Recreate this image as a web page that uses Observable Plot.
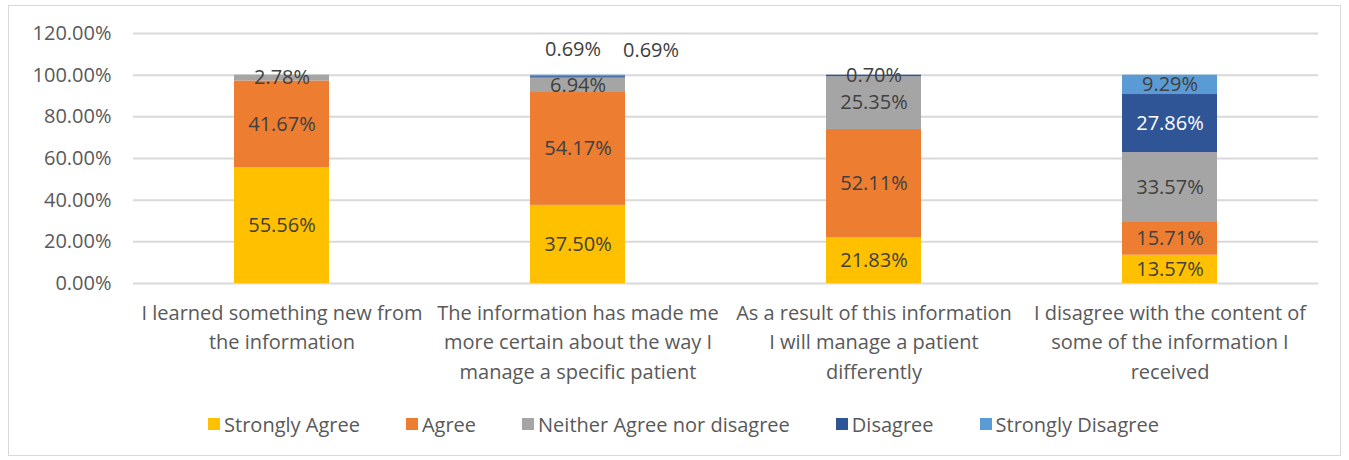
<!DOCTYPE html>
<html>
<head>
<meta charset="utf-8">
<script src="https://cdn.jsdelivr.net/npm/d3@7"></script>
<script src="https://cdn.jsdelivr.net/npm/@observablehq/plot@0.6"></script>
<style>
  html, body { margin: 0; padding: 0; background: #fff; }
  #wrap { position: relative; width: 1349px; height: 460px; overflow: hidden; font-family: "Open Sans", Lato, sans-serif; }
  #frame { position: absolute; left: 8px; top: 5px; width: 1331px; height: 449px; border: 1px solid #d9d9d9; pointer-events: none; }
  #chart { position: absolute; left: 0; top: 0; }
  #legend { position: absolute; left: 0; top: 400px; width: 1349px; height: 48px; display: flex; justify-content: center; align-items: center; gap: 46px; font-size: 20px; color: #595959; padding-left: 18px; box-sizing: border-box; }
  #legend .item { display: flex; align-items: center; gap: 4px; }
  #legend .sw { width: 12px; height: 12px; display: inline-block; }
</style>
</head>
<body>
<div id="wrap">
  <div id="chart"></div>
  <div id="legend"></div>
  <div id="frame"></div>
</div>
<script>
const categories = [
  "I learned something new from\nthe information",
  "The information has made me\nmore certain about the way I\nmanage a specific patient",
  "As a result of this information\nI will manage a patient\ndifferently",
  "I disagree with the content of\nsome of the information I\nreceived"
];
const seriesNames = ["Strongly Agree", "Agree", "Neither Agree nor disagree", "Disagree", "Strongly Disagree"];
const seriesColors = ["#FFC000", "#ED7D31", "#A5A5A5", "#2F5597", "#5B9BD5"];
const stronglyAgree = [55.56, 37.50, 21.83, 13.57];
const agree = [41.67, 54.17, 52.11, 15.71];
const neither = [2.78, 6.94, 25.35, 33.57];
const disagree = [0, 0.69, 0.70, 27.86];
const stronglyDisagree = [0, 0.69, 0, 9.29];
const yTicks = [0, 20, 40, 60, 80, 100, 120];

const seriesValues = [stronglyAgree, agree, neither, disagree, stronglyDisagree];
const rows = [];
categories.forEach((c, i) => {
  seriesNames.forEach((s, j) => {
    rows.push({category: c, series: s, value: seriesValues[j][i], ci: i, sj: j});
  });
});

const fmt = v => v.toFixed(2) + "%";
// tiny segments in the second bar whose labels Excel moved above the bar
const isOutside = d => d.ci === 1 && d.sj >= 3;
const stackOpts = {x: "category", y: "value", z: "series", order: seriesNames};
const FS = 20;

const chart = Plot.plot({
  width: 1349,
  height: 400,
  marginLeft: 133,
  marginRight: 31,
  marginTop: 33,
  marginBottom: 117,
  style: {fontFamily: "'Open Sans', Lato, sans-serif", fontSize: FS + "px", color: "#595959", background: "transparent"},
  x: {domain: categories, paddingInner: 0.68, paddingOuter: 0.34, label: null},
  y: {domain: [0, 120], ticks: yTicks, label: null, tickFormat: fmt},
  color: {domain: seriesNames, range: seriesColors},
  marks: [
    Plot.gridY(yTicks, {stroke: "#d9d9d9", strokeOpacity: 1, strokeWidth: 2}),
    Plot.axisY({ticks: yTicks, tickFormat: fmt, tickSize: 0, tickPadding: 22, fontSize: FS, fill: "#595959", label: null}),
    Plot.axisX({tickSize: 0, tickPadding: 15, fontSize: FS, fill: "#595959", lineHeight: 1.48, label: null, textAnchor: "middle"}),
    Plot.barY(rows.filter(d => d.value > 0), Plot.stackY({...stackOpts, fill: "series"})),
    Plot.text(rows, Plot.stackY({...stackOpts,
      text: d => (d.value > 0 && !isOutside(d)) ? fmt(d.value) : "",
      fill: d => (d.sj === 3 && d.value > 5) ? "#ffffff" : "#404040",
      fontSize: FS})),
    Plot.text(rows, Plot.stackY2({...stackOpts,
      text: d => (isOutside(d) && d.sj === 3) ? fmt(d.value) : "",
      fill: "#404040", fontSize: FS, dx: -5, dy: -27})),
    Plot.text(rows, Plot.stackY2({...stackOpts,
      text: d => (isOutside(d) && d.sj === 4) ? fmt(d.value) : "",
      fill: "#404040", fontSize: FS, dx: 73, dy: -25}))
  ]
});
document.getElementById("chart").appendChild(chart);

const legend = document.getElementById("legend");
seriesNames.forEach((s, j) => {
  const item = document.createElement("div");
  item.className = "item";
  const sw = document.createElement("span");
  sw.className = "sw";
  sw.style.background = seriesColors[j];
  const t = document.createElement("span");
  t.textContent = s;
  item.appendChild(sw);
  item.appendChild(t);
  legend.appendChild(item);
});
</script>
</body>
</html>
